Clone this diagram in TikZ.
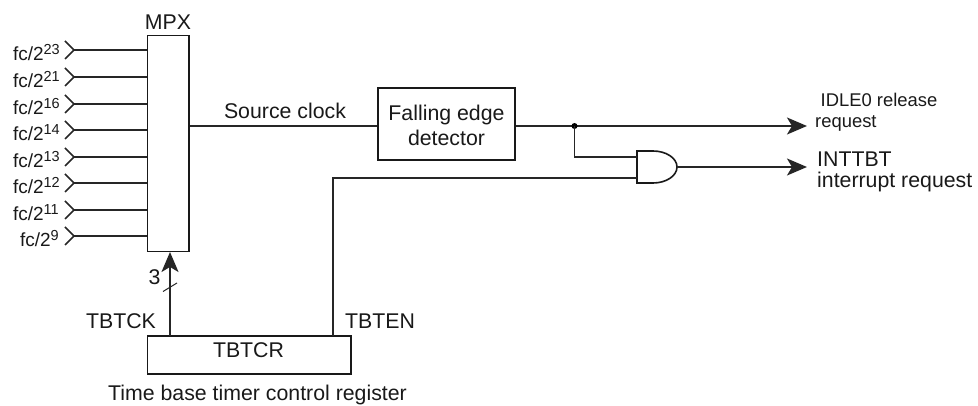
\documentclass[tikz,border=0pt]{standalone}
\usepackage{fontspec}
\setmainfont{Liberation Sans}
\usetikzlibrary{arrows.meta}
\tikzset{
  wire/.style={line width=1.7pt,draw=black!85},
  arrowwire/.style={wire,-{Stealth[length=20pt,width=17pt,inset=5pt]}},
  box/.style={draw=black!90,line width=1.7pt,fill=white,inner sep=0pt,align=center},
  lbl/.style={font=\fontsize{21.3}{25}\selectfont,inner sep=0pt,text=black!90},
  inlbl/.style={font=\fontsize{19}{22}\selectfont,inner sep=0pt,text=black!90},
  small/.style={font=\fontsize{18.4}{22}\selectfont,inner sep=0pt,text=black!90,align=left},
  chev/.style={draw=black!85,line width=1.7pt,line join=miter}
}
\newcommand{\supr}[1]{\raisebox{6pt}{\fontsize{14.5}{16}\selectfont #1}}
\begin{document}
\begin{tikzpicture}[x=1pt,y=-1pt]
\useasboundingbox (0,0) rectangle (978,406);
% MPX
\node[box,minimum width=41.5pt,minimum height=216pt] (mpx) at (168.25,143.5) {};
\node[lbl,anchor=base] (mpxl) at (168,29.5) {MPX};
% Inputs
\foreach \n/\yy/\ex/\rx in {a/50/23/60,b/77/21/60,c/104/16/60,d/130/14/60,e/157/13/60,f/183/12/60,g/210/11/59,h/236/9/59}{
  \coordinate (in\n) at (74,\yy);
  \coordinate (in\n t) at (65,\yy-9);
  \coordinate (in\n b) at (65,\yy+9);
  \draw[chev] (in\n t) -- (in\n) -- (in\n b);
  \draw[wire] (in\n) -- (mpx.west |- in\n);
  \node[inlbl,anchor=base east] (l\n) at (\rx,\yy+11) {fc/2\supr{\ex}};
}
% Detector
\node[box,line width=2.6pt,minimum width=137pt,minimum height=72pt] (det) at (446.5,124) {};
\node[lbl,align=center] (detl) at (446.5,125) {Falling edge\\detector};
\coordinate (detin) at (det.west |- 0,126);
\coordinate (mpxout) at (mpx.east |- 0,126);
\draw[wire] (mpxout) -- (detin);
\node[lbl,anchor=base] (src) at (285,119) {Source clock};
% Top output
\coordinate (detout) at (det.east |- 0,126);
\coordinate (end1) at (807,126);
\coordinate (dot) at (574.5,126);
\draw[arrowwire] (detout) -- (end1);
\fill[black] (dot) circle (3pt);
% AND gate
\coordinate (g1) at (637,151);
\coordinate (g2) at (637,183);
\draw[draw=black!90,line width=1.6pt,fill=white] (g1) -- (653,151) arc[start angle=90,end angle=-90,x radius=24pt,y radius=16pt] -- (g2) -- cycle;
\coordinate (gin1) at (637,157);
\coordinate (gin2) at (637,178);
\coordinate (gout) at (677,167);
\coordinate (end2) at (807,167);
\draw[wire] (dot) |- (gin1);
\draw[arrowwire] (gout) -- (end2);
% TBTCR
\node[box,minimum width=203.5pt,minimum height=38pt] (reg) at (249.25,355) {};
\node[lbl] (regl) at (248.5,350.5) {TBTCR};
\coordinate (tben) at (333,336);
\coordinate (tbck) at (170,336);
\coordinate (mpxin) at (170,252);
\draw[wire] (tben) |- (gin2);
\draw[wire,-{Stealth[length=20pt,width=17pt,inset=5pt]}] (tbck) -- (mpxin);
\coordinate (s1) at (163,291.5);
\coordinate (s2) at (177,283);
\draw[line width=1pt,black!85] (s1) -- (s2);
\node[lbl,anchor=base] (three) at (154.5,285) {3};
\node[lbl,anchor=base] (ck) at (121,329) {TBTCK};
\node[lbl,anchor=base west] (en) at (345,329) {TBTEN};
\node[lbl,anchor=base] (desc) at (257.5,400) {Time base timer control register};
% Right labels
\node[small,anchor=base west] (r1) at (820.5,107) {IDLE0 release};
\node[small,anchor=base west] (r2) at (815,128) {request};
\node[lbl,anchor=base west] (r3) at (817,167) {INTTBT};
\node[lbl,anchor=base west] (r4) at (817,188) {interrupt request};
\end{tikzpicture}
\end{document}
